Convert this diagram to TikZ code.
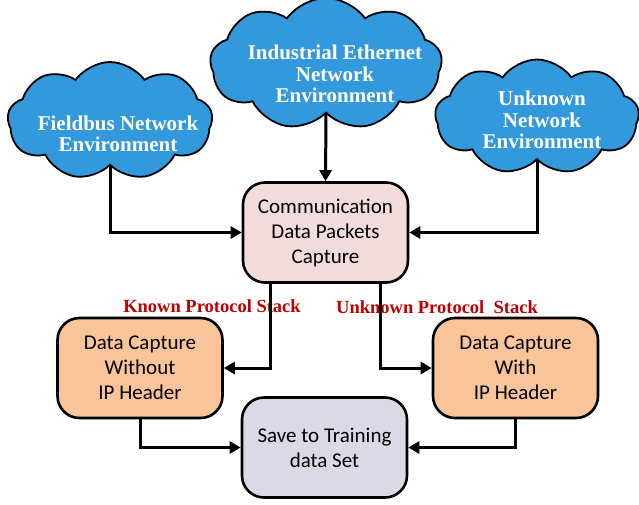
\documentclass[tikz,border=0pt]{standalone}
\usepackage{fontspec}
\setmainfont{Carlito}
\newfontfamily\serifbf{Liberation Serif}[BoldFont={Liberation Serif Bold}]
\usepackage{xcolor}
\usetikzlibrary{positioning,arrows.meta,shapes.symbols,calc}
\definecolor{uCloud}{HTML}{3399DD}
\definecolor{uComm}{HTML}{F2DCDB}
\definecolor{uCap}{HTML}{F8C59A}
\definecolor{uSave}{HTML}{DDD8E6}
\definecolor{uRed}{HTML}{C00000}
\tikzset{
  blk/.style={draw, line width=2.6pt, rounded corners=22pt, align=center,
              minimum width=165pt, minimum height=100pt, inner sep=2pt,
              font=\fontsize{21}{25}\selectfont},
  commbox/.style={blk, fill=uComm},
  capbox/.style={blk, fill=uCap},
  savebox/.style={blk, fill=uSave},
  netcloud/.style={cloud, draw, line width=1.8pt, fill=uCloud, cloud puffs=9,
                   cloud puff arc=110, cloud ignores aspect, inner sep=0pt},
  cloudtxt/.style={align=center, text=white, inner sep=0pt,
                   font=\serifbf\bfseries\fontsize{21}{21.5}\selectfont},
  stacklbl/.style={text=uRed, inner sep=0pt,
                   font=\serifbf\bfseries\fontsize{18.5}{20}\selectfont},
  flow/.style={-{Triangle[length=11pt,width=12pt]}, line width=3pt},
}

\begin{document}
\begin{tikzpicture}[x=1pt, y=-1pt]
\useasboundingbox (0,0) rectangle (639,504);

%% ── the three network clouds along the top ───────────────────────────────
\node[netcloud, minimum width=205pt, minimum height=118pt] (fieldbus) at (110,121) {};
\node[cloudtxt] (fieldbusT) at (118,134) {Fieldbus Network\\Environment};
\node[netcloud, minimum width=232pt, minimum height=132pt] (indeth) at (326,64) {};
\node[cloudtxt] (indethT) at (335,74) {Industrial Ethernet\\Network\\Environment};
\node[netcloud, minimum width=204pt, minimum height=115pt] (unknown) at (537,117) {};
\node[cloudtxt] (unknownT) at (542,120) {Unknown\\Network\\Environment};

%% ── capture box and the two branches ─────────────────────────────────────
\node[commbox] (comm) at (325.5,232.5) {Communication\\Data Packets\\Capture};
\node[capbox]  (capL) at (140,368) {Data Capture\\Without\\IP Header};
\node[capbox]  (capR) at (515.5,368) {Data Capture\\With\\IP Header};
\node[savebox] (save) at (324.5,447.5) {Save to Training\\data Set};

\node[stacklbl] (knownL)   at (212,306) {Known Protocol Stack};
\node[stacklbl] (unknownL) at (437,307) {Unknown Protocol\ \ Stack};

\draw[flow] (fieldbus.south) |- (comm.west);
\draw[flow] (unknown.south) |- (comm.east);
\draw[flow] (indeth.south) -- (comm.north);

\draw[flow] ([xshift=-55pt]comm.south) |- (capL.east);
\draw[flow] ([xshift=55pt]comm.south) |- (capR.west);

\draw[flow] (capL.south) |- (save.west);
\draw[flow] (capR.south) |- (save.east);

\end{tikzpicture}
\end{document}
